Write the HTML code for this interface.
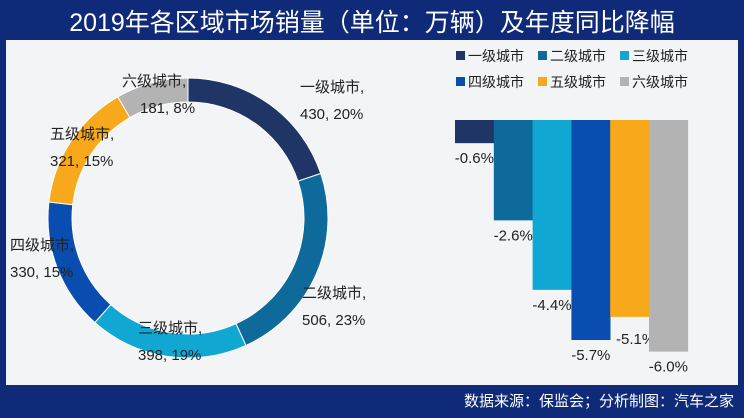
<!DOCTYPE html>
<html><head><meta charset="utf-8"><style>
body{margin:0;width:744px;height:418px;background:#0f2a78;font-family:"Liberation Sans","Noto Sans CJK SC",sans-serif;overflow:hidden;position:relative}
#title{position:absolute;left:0;top:3px;width:744px;text-align:center;color:#fff;font-size:25px}
#panel{position:absolute;left:6px;top:40px;width:732px;height:345px;background:#f3f4f6}
#foot{position:absolute;right:10px;top:390px;color:#fff;font-size:15px}
svg{position:absolute;left:0;top:0}
</style></head><body>
<div id="title">2019年各区域市场销量（单位：万辆）及年度同比降幅</div>
<div id="panel"></div>
<div id="foot">数据来源：保监会；分析制图：汽车之家</div>
<svg id="chart" width="744" height="418"></svg>
<script>
const categories=["一级城市","二级城市","三级城市","四级城市","五级城市","六级城市"];
const sales=[430,506,398,330,321,181];
const shares=["20%","23%","19%","15%","15%","8%"];
const changes=[-0.6,-2.6,-4.4,-5.7,-5.1,-6.0];
const colors=["#1f3566","#0e6a9a","#10a8d2","#0a4db0","#f7a81b","#b3b3b3"];
const NS="http://www.w3.org/2000/svg";
const svg=document.getElementById('chart');
function mk(t,a){const e=document.createElementNS(NS,t);for(const k in a)e.setAttribute(k,a[k]);svg.appendChild(e);return e;}
// donut
const cx=188,cy=218,R=140,r=116;
const total=sales.reduce((a,b)=>a+b,0);
let ang=0;
const labelPos=[[300,92],[302,298],[138,333],[10,250],[50,139],[122,86]];
sales.forEach((v,i)=>{
  const a0=ang,a1=ang+v/total*2*Math.PI;ang=a1;
  const p=(a,rr)=>[cx+rr*Math.sin(a),cy-rr*Math.cos(a)];
  const [x0,y0]=p(a0,R),[x1,y1]=p(a1,R),[x2,y2]=p(a1,r),[x3,y3]=p(a0,r);
  const lg=(a1-a0)>Math.PI?1:0;
  const s=mk('path',{d:`M${x0},${y0}A${R},${R} 0 ${lg} 1 ${x1},${y1}L${x2},${y2}A${r},${r} 0 ${lg} 0 ${x3},${y3}Z`,fill:colors[i],stroke:'#fff','stroke-width':1});
  
  
  const [lx,ly]=labelPos[i];
  const t=mk('text',{x:lx,y:ly,'font-size':15,fill:'#222'});
  
  
  const t1=document.createElementNS(NS,'tspan');t1.setAttribute('x',lx);t1.textContent=categories[i]+',';t.appendChild(t1);
  const t2=document.createElementNS(NS,'tspan');t2.setAttribute('x',i==5?lx+18:lx);t2.setAttribute('dy',27);t2.textContent=sales[i]+', '+shares[i];t.appendChild(t2);
});
// bars
const x0b=455,bw=38.8,y0=120,scale=38.6;
const yv=v=>y0-v*scale;
changes.forEach((v,i)=>{
  const x=x0b+i*bw;
  const b=mk('rect',{x:x,y:y0,width:bw+0.3,height:yv(v)-y0,fill:colors[i]});
  
  
  const t=mk('text',{x:x+bw/2+(i==4?6:0),y:yv(v)+(i==4?27:20),'font-size':15,fill:'#222','text-anchor':'middle'});
  
  
  t.textContent=v.toFixed(1)+'%';
});
// legend
categories.forEach((c,i)=>{
  const x=456+(i%3)*82,y=(i<3?60:86);
  const s=mk('rect',{x:x,y:y-9,width:9,height:9,fill:colors[i]});
  
  
  const t=mk('text',{x:x+12,y:y+1,'font-size':14,fill:'#222'});
  
  
  t.textContent=c;
});
</script>
</body></html>
